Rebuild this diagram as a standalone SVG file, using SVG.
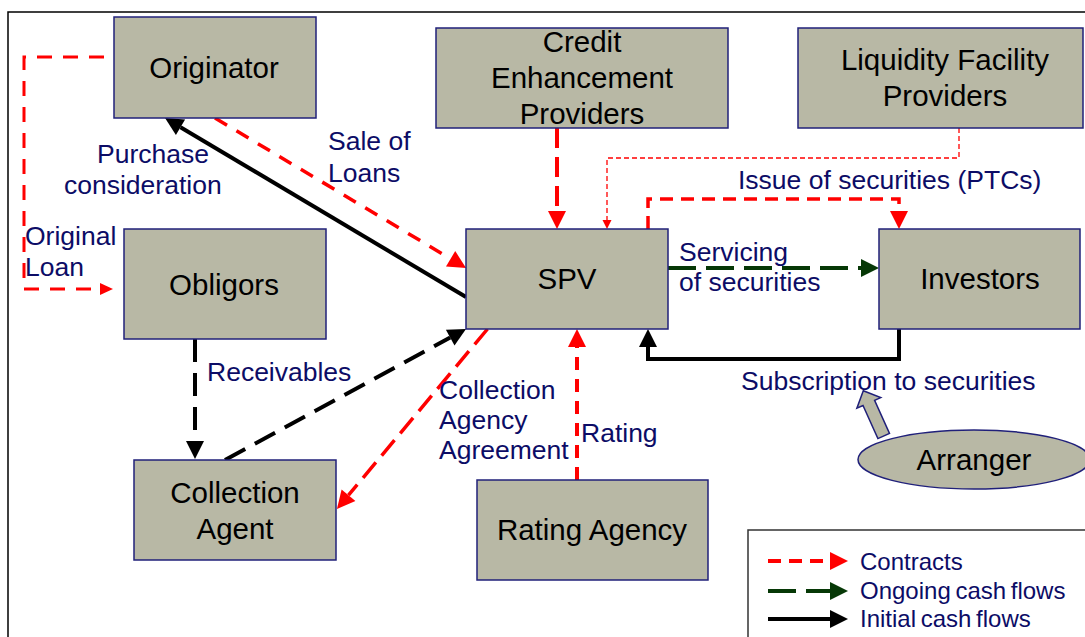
<svg xmlns="http://www.w3.org/2000/svg" width="1085" height="637" viewBox="0 0 1085 637">
<style>
.node{fill:#b8b8a5;stroke:#20207a;stroke-width:1.5}
.nt{font-family:"Liberation Sans",Arial,sans-serif;font-size:29.5px;fill:#000;text-anchor:middle}
.lb{font-family:"Liberation Sans",Arial,sans-serif;font-size:26.5px;fill:#0c0c66}
.lg{font-family:"Liberation Sans",Arial,sans-serif;font-size:24px;fill:#0c0c66;word-spacing:-2px}
.red{fill:none;stroke:#ff0000;stroke-width:3.5;stroke-dasharray:14 11}
.redw{fill:none;stroke:#ff0000;stroke-width:4;stroke-dasharray:20 9}
.redt{fill:none;stroke:#ff0000;stroke-width:1.3;stroke-dasharray:5 3}
.grn{fill:none;stroke:#063806;stroke-width:4;stroke-dasharray:28 10}
.blk{fill:none;stroke:#000;stroke-width:4}
.blkd{fill:none;stroke:#000;stroke-width:4;stroke-dasharray:23 11}
</style>
<defs>
<marker id="mR" markerUnits="userSpaceOnUse" viewBox="0 -9 18 18" markerWidth="18" markerHeight="18" refX="0" refY="0" orient="auto" overflow="visible"><path d="M0,-9 L18,0 L0,9 z" fill="#ff0000"/></marker>
<marker id="mRs" markerUnits="userSpaceOnUse" viewBox="0 -6 13 12" markerWidth="13" markerHeight="12" refX="0" refY="0" orient="auto" overflow="visible"><path d="M0,-6 L13,0 L0,6 z" fill="#ff0000"/></marker>
<marker id="mRt" markerUnits="userSpaceOnUse" viewBox="0 -4.5 9 9" markerWidth="9" markerHeight="9" refX="0" refY="0" orient="auto" overflow="visible"><path d="M0,-4.5 L9,0 L0,4.5 z" fill="#ff0000"/></marker>
<marker id="mB" markerUnits="userSpaceOnUse" viewBox="0 -9 18 18" markerWidth="18" markerHeight="18" refX="0" refY="0" orient="auto" overflow="visible"><path d="M0,-9 L18,0 L0,9 z" fill="#000"/></marker>
<marker id="mG" markerUnits="userSpaceOnUse" viewBox="0 -9 18 18" markerWidth="18" markerHeight="18" refX="0" refY="0" orient="auto" overflow="visible"><path d="M0,-9 L18,0 L0,9 z" fill="#063806"/></marker>
</defs>
<rect width="1085" height="637" fill="#fff"/>
<path d="M8,637 V12 H1085" fill="none" stroke="#000" stroke-width="1.5"/>

<g id="connectors">
<path class="red" d="M104,57 H24 V289 H100" marker-end="url(#mRs)" style="stroke-width:3;stroke-dasharray:15 11"/>
<path class="red" d="M215,118 L450.6,258.8" marker-end="url(#mR)"/>
<path class="blk" d="M466,297 L180.5,127.2" marker-end="url(#mB)"/>
<path class="redw" d="M557,128 V211" marker-end="url(#mR)"/>
<path class="redt" d="M959,128 V158 H607 V220" marker-end="url(#mRt)"/>
<path class="red" d="M648,229 V199 H899 V211" marker-end="url(#mR)" style="stroke-dasharray:13 8"/>
<path class="grn" d="M668,268 H861" marker-end="url(#mG)"/>
<path class="blk" d="M899,329 V359 H648 V347" marker-end="url(#mB)"/>
<path class="redw" d="M577,480 V347" marker-end="url(#mR)" style="stroke-dasharray:13 9"/>
<path class="blkd" d="M195,339 V441" marker-end="url(#mB)"/>
<path class="blkd" d="M225,460 L450.2,337.6" marker-end="url(#mB)"/>
<path class="red" d="M487.5,329 L348.5,495.2" marker-end="url(#mR)" style="stroke-dasharray:20 9"/>
<polygon points="863.3,390.7 880.7,397.6 874.6,400.3 889.5,433.4 877.9,438.6 863,405.5 856.9,408.2" fill="#b8b8a5" stroke="#20207a" stroke-width="1.5"/>
</g>

<g id="originator"><rect class="node" x="114" y="17" width="202" height="101"/><text class="nt" x="214" y="78">Originator</text></g>
<g id="credit"><rect class="node" x="436" y="28" width="292" height="100"/><text class="nt" x="582" y="52">Credit</text><text class="nt" x="582" y="88">Enhancement</text><text class="nt" x="582" y="124">Providers</text></g>
<g id="liquidity"><rect class="node" x="798" y="28" width="285" height="100"/><text class="nt" x="945" y="70">Liquidity Facility</text><text class="nt" x="945" y="106">Providers</text></g>
<g id="obligors"><rect class="node" x="124" y="229" width="202" height="110"/><text class="nt" x="224" y="295">Obligors</text></g>
<g id="spv"><rect class="node" x="466" y="229" width="202" height="100"/><text class="nt" x="567" y="289">SPV</text></g>
<g id="investors"><rect class="node" x="879" y="229" width="201" height="100"/><text class="nt" x="980" y="289">Investors</text></g>
<g id="collection-agent"><rect class="node" x="134" y="460" width="202" height="100"/><text class="nt" x="235" y="503">Collection</text><text class="nt" x="235" y="539">Agent</text></g>
<g id="rating-agency"><rect class="node" x="477" y="480" width="231" height="100"/><text class="nt" x="592" y="540">Rating Agency</text></g>
<g id="arranger"><ellipse class="node" cx="974" cy="459.5" rx="116" ry="29.5"/><text class="nt" x="974" y="470">Arranger</text></g>

<g id="labels">
<text class="lb" x="328" y="150">Sale of</text>
<text class="lb" x="328" y="182">Loans</text>
<text class="lb" x="97" y="163">Purchase</text>
<text class="lb" x="64" y="194">consideration</text>
<text class="lb" x="25" y="245">Original</text>
<text class="lb" x="25" y="276">Loan</text>
<text class="lb" x="738" y="189">Issue of securities (PTCs)</text>
<text class="lb" x="679" y="261">Servicing</text>
<text class="lb" x="679" y="291">of securities</text>
<text class="lb" x="207" y="381">Receivables</text>
<text class="lb" x="439" y="399">Collection</text>
<text class="lb" x="439" y="429">Agency</text>
<text class="lb" x="439" y="459">Agreement</text>
<text class="lb" x="581" y="442">Rating</text>
<text class="lb" x="741" y="390">Subscription to securities</text>
</g>

<g id="legend">
<rect x="748" y="530" width="400" height="200" fill="#fff" stroke="#333" stroke-width="1.5"/>
<path class="red" d="M768,561 H830" marker-end="url(#mR)" style="stroke-width:4;stroke-dasharray:13 8"/>
<path class="grn" d="M768,591 H830" marker-end="url(#mG)"/>
<path class="blk" d="M768,619 H830" marker-end="url(#mB)"/>
<text class="lg" x="860" y="570">Contracts</text>
<text class="lg" x="860" y="599">Ongoing cash flows</text>
<text class="lg" x="860" y="627">Initial cash flows</text>
</g>
</svg>
